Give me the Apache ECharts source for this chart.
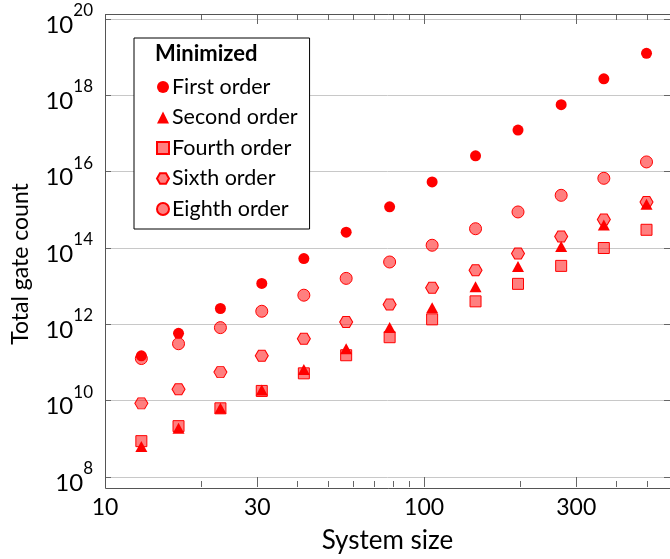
<!DOCTYPE html>
<html><head><meta charset="utf-8">
<script src="https://cdn.jsdelivr.net/npm/echarts@6/dist/echarts.min.js"></script>
<style>html,body{margin:0;padding:0;background:#fff}#c{width:670px;height:559px}</style>
</head><body><div id="c"></div>
<script>
const systemSize  = [13, 17, 23, 31, 42, 57, 78, 106, 145, 197, 269, 366, 498];
const firstOrder  = [1.5e11, 5.8e11, 2.6e12, 1.18e13, 5.3e13, 2.6e14, 1.2e15, 5.4e15, 2.6e16, 1.23e17, 5.7e17, 2.7e18, 1.26e19];
const secondOrder = [6.3e8, 1.9e9, 6.3e9, 1.9e10, 6.6e10, 2.3e11, 8.2e11, 2.7e12, 9.7e12, 3.3e13, 1.1e14, 4.0e14, 1.4e15];
const fourthOrder = [8.7e8, 2.15e9, 6.3e9, 1.8e10, 5.2e10, 1.55e11, 4.6e11, 1.35e12, 4.0e12, 1.15e13, 3.4e13, 1.0e14, 3.0e14];
const sixthOrder  = [8.5e9, 2.0e10, 5.6e10, 1.5e11, 4.2e11, 1.15e12, 3.3e12, 9.1e12, 2.6e13, 7.2e13, 2.0e14, 5.6e14, 1.6e15];
const eighthOrder = [1.27e11, 3.1e11, 8.2e11, 2.2e12, 5.8e12, 1.6e13, 4.3e13, 1.18e14, 3.2e14, 8.8e14, 2.4e15, 6.7e15, 1.8e16];
const xMajorTicks = [10, 30, 100, 300];
const xMinorTicks = [20, 40, 50, 60, 70, 80, 90, 200, 400, 500];
const yTicks = [1e8, 1e10, 1e12, 1e14, 1e16, 1e18, 1e20];
const seriesNames = ['First order', 'Second order', 'Fourth order', 'Sixth order', 'Eighth order'];
const legendTitle = 'Minimized';

const FONT = 'Lato';
const RED = '#ff0000';
const PINK = 'rgba(255,0,0,0.5)';
const HEX = 'path://M0.5,0L1.5,0L2,0.866L1.5,1.732L0.5,1.732L0,0.866Z';

const pairs = arr => systemSize.map((x, i) => [x, arr[i]]);

const xBase = {
  type: 'log', logBase: 10, min: 10, max: 590, gridIndex: 0,
  axisLine: { show: false }, splitLine: { show: false }, minorTick: { show: false }
};
const tickStyle = { color: '#666', width: 1 };

const chart = echarts.init(document.getElementById('c'), null, { renderer: 'canvas' });
chart.setOption({
  backgroundColor: '#fff',
  animation: false,
  textStyle: { fontFamily: FONT, color: '#000' },
  grid: { left: 105, right: 0, top: 19, bottom: 81, containLabel: false },
  title: {
    text: legendTitle, left: 155, top: 43, padding: 0,
    textStyle: { fontFamily: FONT, fontSize: 22, fontWeight: 'bold', color: '#000' }
  },
  legend: {
    orient: 'vertical', left: 134, top: 38,
    padding: [37, 12, 8, 22],
    itemWidth: 12, itemHeight: 12, itemGap: 6.5,
    borderColor: '#000', borderWidth: 1, backgroundColor: '#fff',
    textStyle: { fontFamily: FONT, fontSize: 21.5, color: '#000', lineHeight: 24, padding: [0, 0, 0, -2] },
    data: seriesNames
  },
  xAxis: [
    Object.assign({}, xBase, {
      position: 'bottom', offset: 10,
      axisTick: { inside: true, length: 10, lineStyle: tickStyle, customValues: xMajorTicks },
      axisLabel: { customValues: xMajorTicks, fontFamily: FONT, fontSize: 23, color: '#000', margin: 9,
        formatter: v => String(Math.round(v)) },
      name: 'System size', nameLocation: 'middle', nameGap: 41,
      nameTextStyle: { fontFamily: FONT, fontSize: 26, color: '#000' }
    }),
    Object.assign({}, xBase, {
      position: 'bottom', offset: 10,
      axisTick: { inside: true, length: 6, lineStyle: tickStyle, customValues: xMinorTicks },
      axisLabel: { show: false }
    }),
    Object.assign({}, xBase, {
      position: 'top', offset: 5,
      axisTick: { inside: true, length: 10, lineStyle: tickStyle, customValues: xMajorTicks },
      axisLabel: { show: false }
    }),
    Object.assign({}, xBase, {
      position: 'top', offset: 5,
      axisTick: { inside: true, length: 6, lineStyle: tickStyle, customValues: xMinorTicks },
      axisLabel: { show: false }
    })
  ],
  yAxis: [
    {
      type: 'log', logBase: 10, min: 1e8, max: 1e20, position: 'left',
      axisLine: { show: false },
      axisTick: { inside: true, length: 6, lineStyle: tickStyle, customValues: yTicks },
      axisLabel: {
        customValues: yTicks, margin: 12,
        formatter: v => '{b|10}{s|' + Math.round(Math.log10(v)) + '}',
        rich: {
          b: { fontFamily: FONT, fontSize: 24, color: '#000', lineHeight: 36, verticalAlign: 'bottom' },
          s: { fontFamily: FONT, fontSize: 17, color: '#000', lineHeight: 17, verticalAlign: 'bottom', padding: [0, 0, 18, 0] }
        }
      },
      splitLine: { show: true, lineStyle: { color: '#c8c8c8', width: 1 } },
      name: 'Total gate count', nameLocation: 'middle', nameGap: 73,
      nameTextStyle: { fontFamily: FONT, fontSize: 23, color: '#000', padding: [0, 32, 0, 0] }
    },
    {
      type: 'log', logBase: 10, min: 1e8, max: 1e20, position: 'right',
      axisLine: { show: false },
      axisTick: { inside: true, length: 6, lineStyle: tickStyle, customValues: yTicks },
      axisLabel: { show: false },
      splitLine: { show: false }
    }
  ],
  graphic: [{
    type: 'rect', z: 50, silent: true,
    shape: { x: 105.5, y: 14.5, width: 600, height: 474 },
    style: { fill: 'none', stroke: '#555', lineWidth: 1 }
  }],
  series: [
    { name: seriesNames[0], type: 'scatter', data: pairs(firstOrder), symbol: 'circle', symbolSize: 11,
      itemStyle: { color: RED, borderColor: RED, borderWidth: 0, opacity: 1 } },
    { name: seriesNames[1], type: 'scatter', data: pairs(secondOrder), symbol: 'triangle', symbolSize: [12, 11],
      itemStyle: { color: RED, borderColor: RED, borderWidth: 0, opacity: 1 } },
    { name: seriesNames[2], type: 'scatter', data: pairs(fourthOrder), symbol: 'rect', symbolSize: 11,
      itemStyle: { color: PINK, borderColor: RED, borderWidth: 1, opacity: 1 } },
    { name: seriesNames[3], type: 'scatter', data: pairs(sixthOrder), symbol: HEX, symbolSize: [13, 11],
      itemStyle: { color: PINK, borderColor: RED, borderWidth: 1, opacity: 1 } },
    { name: seriesNames[4], type: 'scatter', data: pairs(eighthOrder), symbol: 'circle', symbolSize: 12,
      itemStyle: { color: PINK, borderColor: RED, borderWidth: 1, opacity: 1 } }
  ]
});
</script>
</body></html>
